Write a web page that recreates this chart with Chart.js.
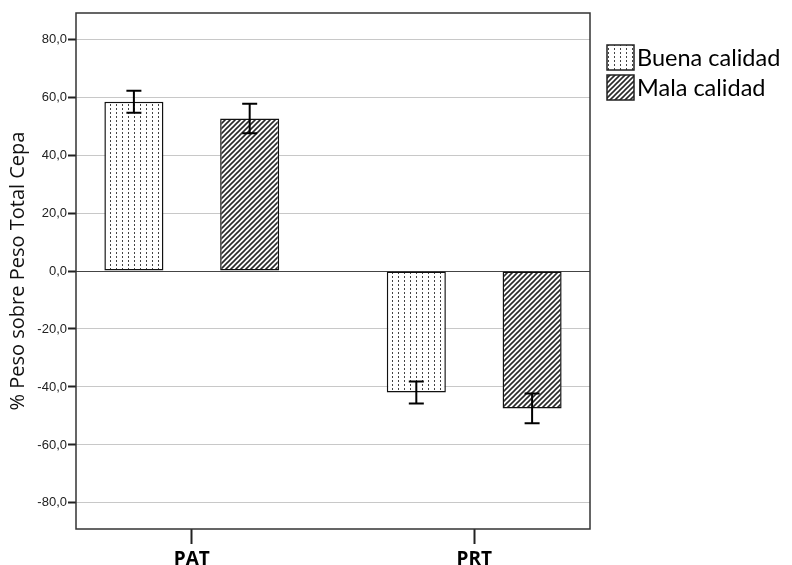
<!DOCTYPE html>
<html lang="es">
<head>
  <meta charset="UTF-8">
  <script src="https://cdn.jsdelivr.net/npm/chart.js@4.4.1/dist/chart.umd.min.js"></script>
  <title>% Peso sobre Peso Total Cepa</title>
  <style>
    body { margin: 0; background: #fff; }
    #wrap { width: 792px; height: 565px; }
  </style>
</head>
<body>
  <div id="wrap"><canvas id="myChart"></canvas></div>
  <script>
    // data
    const categories = ['PAT', 'PRT'];
    const seriesNames = ['Buena calidad', 'Mala calidad'];
    const buena = [58.4, -41.9];
    const mala = [52.6, -47.4];
    const buenaErr = [3.8, 3.8];
    const malaErr = [5.1, 5.1];
    const yTicks = [-80, -60, -40, -20, 0, 20, 40, 60, 80];

    // fill patterns
    function dotPattern() {
      const c = document.createElement('canvas');
      c.width = 6; c.height = 4;
      const g = c.getContext('2d');
      g.fillStyle = '#fff';
      g.fillRect(0, 0, 6, 4);
      g.fillStyle = '#444';
      g.fillRect(2, 0, 1, 2);
      return g.createPattern(c, 'repeat');
    }
    function hatchPattern() {
      const s = 5;
      const c = document.createElement('canvas');
      c.width = s; c.height = s;
      const g = c.getContext('2d');
      g.fillStyle = '#fff';
      g.fillRect(0, 0, s, s);
      g.strokeStyle = '#2a2a2a';
      g.lineWidth = 1.6;
      g.beginPath();
      g.moveTo(-1, s + 1); g.lineTo(s + 1, -1);
      g.moveTo(-1, 1); g.lineTo(1, -1);
      g.moveTo(s - 1, s + 1); g.lineTo(s + 1, s - 1);
      g.stroke();
      return g.createPattern(c, 'repeat');
    }

    const errorBars = {
      id: 'errorBars',
      afterDatasetsDraw(chart) {
        const ctx = chart.ctx;
        const y = chart.scales.y;
        ctx.save();
        ctx.strokeStyle = '#000';
        ctx.lineWidth = 2;
        chart.data.datasets.forEach((ds, i) => {
          const meta = chart.getDatasetMeta(i);
          meta.data.forEach((bar, j) => {
            const v = ds.data[j], e = ds.errors[j];
            const y1 = y.getPixelForValue(v + e);
            const y2 = y.getPixelForValue(v - e);
            const x = bar.x;
            ctx.beginPath();
            ctx.moveTo(x, y1); ctx.lineTo(x, y2);
            ctx.moveTo(x - 7.5, y1); ctx.lineTo(x + 7.5, y1);
            ctx.moveTo(x - 7.5, y2); ctx.lineTo(x + 7.5, y2);
            ctx.stroke();
          });
        });
        ctx.restore();
      }
    };

    const frame = {
      id: 'frame',
      afterDatasetsDraw(chart) {
        const a = chart.chartArea;
        const ctx = chart.ctx;
        ctx.save();
        ctx.strokeStyle = '#333';
        ctx.lineWidth = 1.5;
        ctx.strokeRect(a.left, a.top, a.right - a.left, a.bottom - a.top);
        ctx.restore();
      }
    };

    const sideLegend = {
      id: 'sideLegend',
      afterDraw(chart) {
        const ctx = chart.ctx;
        ctx.save();
        ctx.font = '23.5px Lato';
        ctx.textBaseline = 'middle';
        chart.data.datasets.forEach((ds, i) => {
          const bx = 607, by = 45 + i * 30;
          ctx.fillStyle = ds.backgroundColor;
          ctx.fillRect(bx, by, 27, 25);
          ctx.strokeStyle = '#222';
          ctx.lineWidth = 1.5;
          ctx.strokeRect(bx, by, 27, 25);
          ctx.fillStyle = '#000';
          ctx.fillText(ds.label, bx + 30, by + 13);
        });
        ctx.restore();
      }
    };

    new Chart('myChart', {
      type: 'bar',
      data: {
        labels: categories,
        datasets: [
          { label: seriesNames[0], data: buena, errors: buenaErr, backgroundColor: dotPattern() },
          { label: seriesNames[1], data: mala, errors: malaErr, backgroundColor: hatchPattern() }
        ]
      },
      options: {
        responsive: true,
        maintainAspectRatio: false,
        animation: false,
        layout: { padding: { left: 0, top: 13, right: 202, bottom: 0 } },
        plugins: { legend: { display: false }, tooltip: { enabled: false } },
        datasets: {
          bar: {
            categoryPercentage: 0.82,
            barPercentage: 0.51,
            borderColor: '#111',
            borderWidth: 1.5,
            borderSkipped: false
          }
        },
        scales: {
          x: {
            offset: true,
            afterBuildTicks: (s) => { s._startValue = -0.41; s._valueRange = 1.82; },
            afterFit: (s) => { s.height = 36; },
            grid: { offset: false, drawOnChartArea: false, tickLength: 15, tickColor: '#222', tickWidth: 2 },
            border: { display: false },
            ticks: { color: '#000', padding: 4, font: { family: 'Open Sans', size: 19, weight: 'bold' } }
          },
          y: {
            min: -89,
            max: 89,
            afterBuildTicks: (s) => { s.ticks = yTicks.map(v => ({ value: v })); },
            afterFit: (s) => { s.width = 76; },
            grid: {
              color: (c) => (c.tick && c.tick.value === 0 ? '#444' : '#c8c8c8'),
              lineWidth: 1,
              tickLength: 8,
              tickColor: '#222',
              tickWidth: 2
            },
            border: { display: false },
            ticks: {
              color: '#222',
              padding: 1,
              font: { family: 'Liberation Sans', size: 13 },
              callback: (v) => v.toFixed(1).replace('.', ',')
            },
            title: {
              display: true,
              text: '% Peso sobre Peso Total Cepa',
              color: '#111',
              padding: { top: 6, bottom: 0 },
              font: { family: 'Open Sans', size: 20 }
            }
          }
        }
      },
      plugins: [errorBars, frame, sideLegend]
    });
  </script>
</body>
</html>
